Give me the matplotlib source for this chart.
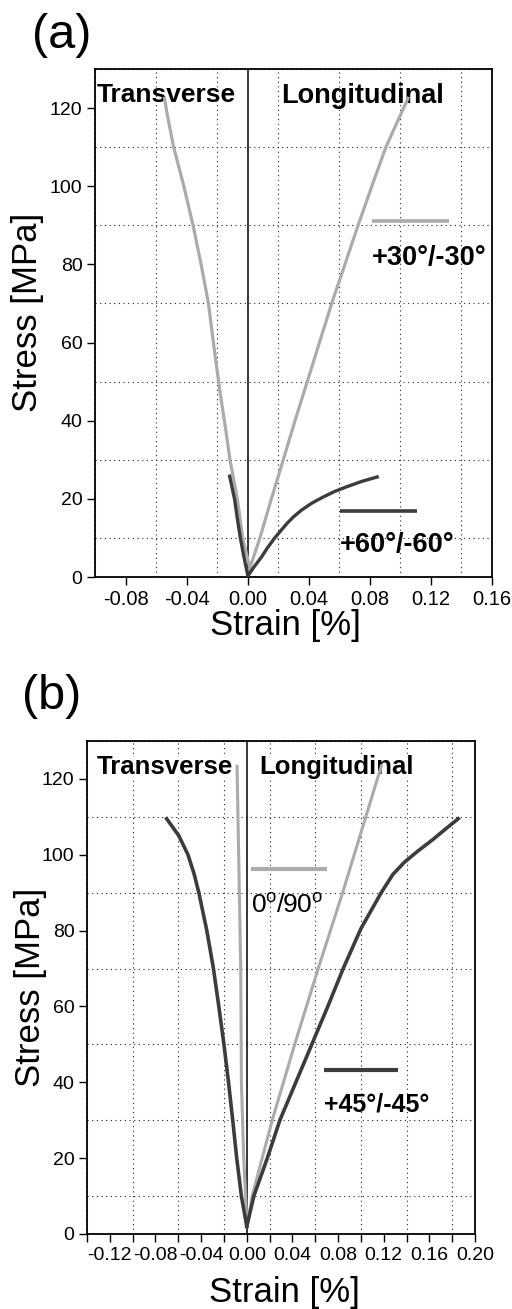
import matplotlib
matplotlib.use("Agg")
import matplotlib.pyplot as plt
from matplotlib.ticker import MultipleLocator, FuncFormatter

plt.rcParams['font.family'] = ['Liberation Sans', 'DejaVu Sans']
plt.rcParams['mathtext.fontset'] = 'custom'
plt.rcParams['mathtext.rm'] = 'Liberation Sans'

# ---------------- data (strain %, stress MPa) ----------------
# panel (a)
a30_long_x = [0.001, 0.008, 0.0155, 0.0233, 0.031, 0.039, 0.047, 0.055, 0.0637, 0.0723, 0.0813, 0.0905, 0.105]
a30_long_y = [1.8, 10, 20, 30, 40, 50, 60, 70, 80, 90, 100, 110, 122.5]
a30_trans_x = [0.001, -0.0033, -0.0068, -0.0116, -0.0145, -0.0180, -0.0218, -0.0257, -0.0305,
               -0.0358, -0.0418, -0.0485, -0.0530, -0.0545]
a30_trans_y = [3, 10, 20, 30, 38, 47, 58, 70, 80, 90, 100, 110, 119, 122.5]
a60_long_x = [0.0005, 0.004, 0.0092, 0.013, 0.0177, 0.022, 0.0257, 0.030, 0.0352,
              0.042, 0.0496, 0.057, 0.0649, 0.075, 0.0848]
a60_long_y = [0.5, 2.5, 5.2, 7.5, 10, 12, 13.7, 15.4, 17.1, 18.9, 20.5, 21.9, 23.1, 24.5, 25.6]
a60_trans_x = [0.0, -0.0024, -0.0048, -0.0068, -0.0085, -0.0100, -0.0111, -0.0118]
a60_trans_y = [0.5, 5, 10, 15, 19.7, 22.5, 24.5, 25.8]

# panel (b)
b0_long_x = [0.001, 0.0047, 0.0223, 0.042, 0.0626, 0.084, 0.118]
b0_long_y = [3, 10, 30, 50, 70, 90, 123.5]
b0_trans_x = [0.0, -0.0026, -0.0047, -0.0053, -0.0065, -0.0077, -0.0085]
b0_trans_y = [4, 19.5, 40, 70, 90, 110, 123.3]
b45_long_x = [0.0, 0.0062, 0.018, 0.029, 0.043, 0.057, 0.071, 0.0845, 0.1000, 0.1178,
              0.128, 0.138, 0.150, 0.163, 0.175, 0.1853]
b45_long_y = [2, 10, 20, 30, 40, 50, 60, 70, 80.5, 90, 94.8, 98, 101, 104, 107, 109.5]
b45_trans_x = [0.0, -0.0047, -0.0088, -0.0123, -0.016, -0.020, -0.0245, -0.0292, -0.0350,
               -0.0420, -0.0462, -0.0515, -0.0595, -0.0702]
b45_trans_y = [2, 10, 20, 30, 40, 50, 60, 70, 80, 90, 95, 100, 105, 109.5]

GRAY = '#ababab'
DARK = '#3c3c3c'

fig = plt.figure(figsize=(5.12, 13.09), dpi=100)
H = 1309.0
W = 512.0
ax1 = fig.add_axes([95 / W, 1 - 577 / H, 397 / W, 508 / H])
ax2 = fig.add_axes([87 / W, 1 - 1234 / H, 388 / W, 493 / H])


def style(ax, xlim, xmajor, xminor, xlab_size, xtick_len_minor):
    ax.set_xlim(*xlim)
    ax.set_ylim(0, 130)
    ax.xaxis.set_major_locator(MultipleLocator(xmajor))
    ax.xaxis.set_minor_locator(MultipleLocator(xminor))
    ax.yaxis.set_major_locator(MultipleLocator(20))
    ax.yaxis.set_minor_locator(MultipleLocator(10))
    ax.grid(False)
    # grid on the minor (odd) positions only
    ax.grid(which='minor', axis='both', color='#222222', linestyle=(0, (1, 3.2)), linewidth=0.8)
    ax.tick_params(which='major', direction='out', length=6, width=1.0, labelsize=xlab_size, pad=3)
    ax.tick_params(which='minor', axis='y', length=0)
    ax.tick_params(which='minor', axis='x', length=xtick_len_minor, width=1.0)
    ax.tick_params(axis='y', labelsize=14)
    for s in ax.spines.values():
        s.set_linewidth(1.3)
    ax.axvline(0, color='black', linewidth=1.1, zorder=3)
    ax.xaxis.set_major_formatter(FuncFormatter(lambda v, p: f'{v:.2f}'))
    ax.set_xlabel('Strain [%]', fontsize=25, labelpad=0)
    ax.set_ylabel('Stress [MPa]', fontsize=25, labelpad=4)


style(ax1, (-0.10, 0.16), 0.04, 0.02, 14.5, 0)
style(ax2, (-0.14, 0.20), 0.04, 0.02, 14, 6)

# ----- panel (a) curves
ax1.plot(a30_long_x, a30_long_y, color=GRAY, lw=2.3, zorder=4)
ax1.plot(a30_trans_x, a30_trans_y, color=GRAY, lw=2.3, zorder=4)
ax1.plot(a60_long_x, a60_long_y, color=DARK, lw=2.4, zorder=5)
ax1.plot(a60_trans_x, a60_trans_y, color=DARK, lw=2.4, zorder=5)

# ----- panel (b) curves
ax2.plot(b0_long_x, b0_long_y, color=GRAY, lw=2.2, zorder=4)
ax2.plot(b0_trans_x, b0_trans_y, color=GRAY, lw=2.2, zorder=4)
ax2.plot(b45_long_x, b45_long_y, color=DARK, lw=2.6, zorder=5)
ax2.plot(b45_trans_x, b45_trans_y, color=DARK, lw=2.6, zorder=5)

# ----- region labels
ax1.text(0.005, 0.972, 'Transverse', transform=ax1.transAxes, fontsize=19, fontweight='bold',
         ha='left', va='top')
ax1.text(0.468, 0.972, 'Longitudinal', transform=ax1.transAxes, fontsize=19.5, fontweight='bold',
         ha='left', va='top')
bb = dict(facecolor='white', edgecolor='none', pad=0.5)
ax2.text(0.026, 0.972, 'Transverse', transform=ax2.transAxes, fontsize=18.5, fontweight='bold',
         ha='left', va='top', bbox=bb, zorder=2)
ax2.text(0.445, 0.972, 'Longitudinal', transform=ax2.transAxes, fontsize=18.5, fontweight='bold',
         ha='left', va='top', bbox=bb, zorder=2)

# ----- keys (line above label)
def key(ax, x0, x1, y, color, label, ty, weight, size, lw):
    ax.plot([x0, x1], [y, y], transform=ax.transAxes, color=color, lw=lw, solid_capstyle='butt', zorder=6)
    ax.text(x0, ty, label, transform=ax.transAxes, fontsize=size, fontweight=weight,
            ha='left', va='center', zorder=6)

key(ax1, 0.698, 0.892, 0.701, GRAY, '+30°/-30°', 0.628, 'bold', 19.5, 2.6)
key(ax1, 0.617, 0.811, 0.130, DARK, '+60°/-60°', 0.063, 'bold', 19.5, 2.6)
key(ax2, 0.423, 0.619, 0.740, GRAY, r'0$^{\mathregular{o}}$/90$^{\mathregular{o}}$', 0.667, 'normal', 19, 3.0)
key(ax2, 0.611, 0.802, 0.333, DARK, '+45°/-45°', 0.262, 'bold', 18, 3.0)

# ----- panel letters
fig.text(32 / W, 1 - 35 / H, '(a)', fontsize=35, ha='left', va='center')
fig.text(22 / W, 1 - 697 / H, '(b)', fontsize=35, ha='left', va='center')

ax1.yaxis.set_label_coords(-0.128, 0.52)
ax2.yaxis.set_label_coords(-0.103, 0.5)
ax1.xaxis.set_label_coords(0.48, -0.063)
ax2.xaxis.set_label_coords(0.51, -0.086)

fig.savefig('out.png', dpi=100, facecolor='white')
